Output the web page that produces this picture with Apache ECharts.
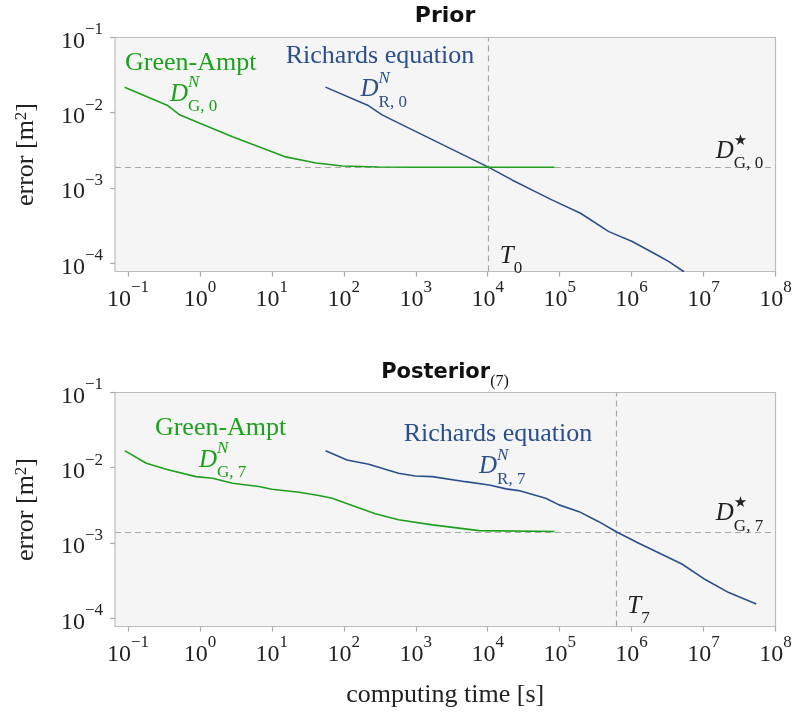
<!DOCTYPE html>
<html>
<head>
<meta charset="utf-8">
<script src="https://cdn.jsdelivr.net/npm/echarts@6/dist/echarts.min.js"></script>
<style>
  html, body { margin: 0; padding: 0; background: #fff; }
  #main { width: 797px; height: 718px; }
</style>
</head>
<body>
<div id="main"></div>
<script>
const chart = echarts.init(document.getElementById("main"));

// ********
// * Data *
// ********

// Axis ranges and ticks (log scale)
const xMin = Math.pow(10, -1.18);
const xMax = 1e8;
const yMin = Math.pow(10, -4.11);
const yMax = 1e-1;
const xTicks = [1e-1, 1e0, 1e1, 1e2, 1e3, 1e4, 1e5, 1e6, 1e7, 1e8];
const yTicks = [1e-4, 1e-3, 1e-2, 1e-1];

// Prior: Green-Ampt
const priorGreenTime = [0.09, 0.35, 0.53, 1.0, 2.84, 6.6, 15.6, 41, 96, 300, 1000, 1e4, 8.5e4];
const priorGreenError = [0.0218, 0.0126, 0.0093, 0.00723, 0.00479, 0.00352, 0.00259, 0.00215, 0.00196, 0.00190, 0.00189, 0.00189, 0.00189];

// Prior: Richards equation
const priorRichardsTime = [55.6, 222, 340, 580, 1.035e4, 2.18e4, 4.37e4, 7.8e4, 1.95e5, 4.83e5, 1.02e6, 2.4e6, 3.3e6, 5.35e6];
const priorRichardsError = [0.0219, 0.01236, 0.00937, 0.00728, 0.00188, 0.00128, 0.000915, 0.000695, 0.000462, 0.000263, 0.000194, 0.000125, 0.000105, 0.000077];

// Posterior(7): Green-Ampt
const postGreenTime = [0.09, 0.18, 0.35, 0.88, 1.5, 2.84, 6.6, 10, 24, 45, 69, 105, 274, 575, 1700, 7600, 8.5e4];
const postGreenError = [0.01686, 0.01148, 0.0095, 0.00762, 0.00724, 0.00622, 0.00562, 0.00518, 0.00473, 0.00427, 0.00394, 0.00339, 0.00245, 0.00204, 0.00174, 0.00146, 0.00142];

// Posterior(7): Richards equation
const postRichardsTime = [55.7, 111, 222, 575, 980, 1700, 4900, 1.05e4, 1.8e4, 2.7e4, 6.4e4, 9.8e4, 1.86e5, 3.5e5, 6.2e5, 1.26e6, 5e6, 1.07e7, 2.24e7, 5.4e7];
const postRichardsError = [0.01686, 0.0127, 0.01114, 0.00845, 0.00778, 0.00762, 0.00653, 0.00591, 0.00524, 0.00497, 0.00394, 0.00321, 0.00261, 0.00192, 0.0014, 0.00099, 0.000525, 0.000324, 0.000219, 0.000155];

// Reference levels: best Green-Ampt error and break-even time
const priorDStar = 0.00189;
const priorT = 1.02e4;
const postDStar = 0.0014;
const postT = 6.2e5;

// **********
// * Styles *
// **********

const green = "#1ea01e";
const blue = "#2b4f8c";
const serif = "Liberation Serif";

const tickRich = {
  b: { fontFamily: serif, fontSize: 24, color: "#222", lineHeight: 32, verticalAlign: "bottom" },
  s: { fontFamily: serif, fontSize: 17, color: "#222", lineHeight: 17, verticalAlign: "top" },
};

function powLabel(value) {
  const e = Math.round(Math.log10(value));
  return "{b|10}{s|" + (e < 0 ? "\u2212" + (-e) : e) + "}";
}

function annoRich(color) {
  return {
    t: { fontFamily: serif, fontSize: 26, color: color },
    d: { fontFamily: serif, fontSize: 25, fontStyle: "italic", color: color, lineHeight: 42 },
    dh: { fontFamily: serif, fontSize: 25, fontStyle: "italic", color: "rgba(0,0,0,0)", lineHeight: 40 },
    sub: { fontFamily: serif, fontSize: 17, color: color, lineHeight: 17, verticalAlign: "bottom" },
    sup: { fontFamily: serif, fontSize: 17, fontStyle: "italic", color: color, lineHeight: 17, verticalAlign: "top" },
    star: { fontFamily: "DejaVu Sans", fontSize: 15, color: color, lineHeight: 15, verticalAlign: "top", padding: [2, 0, 0, 0] },
  };
}

// Text item anchored (left, middle) at a data point
function textItem(coord, text, color) {
  return {
    coord: coord,
    label: {
      show: true, position: "right", distance: 0, offset: [0, 3],
      formatter: text, rich: annoRich(color),
    },
  };
}

// D^{sup}_{sub} as two overlaid labels at the same anchor
function symbolItems(coord, sup, sub, color, star) {
  return [
    textItem(coord, "{d|D}{sub|" + sub + "}", color),
    textItem(coord, "{dh|D}{" + (star ? "star" : "sup") + "|" + sup + "}", color),
  ];
}

function buildGrid(top) {
  return {
    left: 115, top: top, width: 660.5, height: 234,
    show: true, backgroundColor: "#f5f5f5", borderColor: "#bdbdbd", borderWidth: 1.2,
  };
}

function buildXAxis(gridIndex, withName) {
  return {
    type: "log", logBase: 10, gridIndex: gridIndex,
    min: xMin, max: xMax,
    axisLine: { show: false },
    splitLine: { show: false },
    minorTick: { show: false },
    axisTick: { show: true, length: 5, lineStyle: { color: "#aaa", width: 1.2 }, customValues: xTicks },
    axisLabel: { margin: 8, formatter: powLabel, rich: tickRich, customValues: xTicks },
    name: withName ? "computing time [s]" : "",
    nameLocation: "middle", nameGap: 56,
    nameTextStyle: { fontFamily: serif, fontSize: 26, color: "#222" },
  };
}

function buildYAxis(gridIndex) {
  return {
    type: "log", logBase: 10, gridIndex: gridIndex,
    min: yMin, max: yMax,
    axisLine: { show: false },
    splitLine: { show: false },
    minorTick: { show: false },
    axisTick: { show: true, length: 5, lineStyle: { color: "#aaa", width: 1.2 }, customValues: yTicks },
    axisLabel: { margin: 12, formatter: powLabel, rich: tickRich, customValues: yTicks },
    name: "error [m{s|2}]",
    nameLocation: "middle", nameRotate: 90, nameGap: 76,
    nameTextStyle: {
      fontFamily: serif, fontSize: 26, color: "#222",
      rich: { s: { fontFamily: serif, fontSize: 17, color: "#222", lineHeight: 17, verticalAlign: "top" } },
    },
  };
}

function zipPairs(xs, ys) {
  return xs.map((x, i) => [x, ys[i]]);
}

function lineSeries(name, idx, xs, ys, color, extra) {
  return Object.assign({
    name: name, type: "line",
    xAxisIndex: idx, yAxisIndex: idx,
    data: zipPairs(xs, ys),
    showSymbol: false, symbol: "none",
    lineStyle: { color: color, width: 1.6 },
    clip: true, animation: false, z: 3,
  }, extra || {});
}

// Dashed guides: horizontal at D*, vertical at T
function refLines(dStar, tStar) {
  return {
    silent: true, symbol: "none",
    label: { show: false },
    lineStyle: { color: "#a8a8a8", type: [6, 4], width: 1.2 },
    data: [
      [{ coord: [xMin, dStar] }, { coord: [xMax, dStar] }],
      [{ coord: [tStar, yMin] }, { coord: [tStar, yMax] }],
    ],
    animation: false, z: 1,
  };
}

function marks(items) {
  return { symbol: "circle", symbolSize: 0, silent: true, animation: false, data: items };
}

// **********
// * Option *
// **********

const option = {
  animation: false,
  title: [
    {
      text: "Prior", left: 445, top: 5, textAlign: "center", padding: 0,
      textStyle: { fontFamily: "DejaVu Sans", fontWeight: "bold", fontSize: 22, color: "#111" },
    },
    {
      text: "{b|Posterior}{s|(7)}", left: 445, top: 356, textAlign: "center", padding: 0,
      textStyle: {
        rich: {
          b: { fontFamily: "DejaVu Sans", fontWeight: "bold", fontSize: 21, color: "#111", lineHeight: 34 },
          s: { fontFamily: serif, fontWeight: "normal", fontSize: 16, color: "#111", lineHeight: 16, verticalAlign: "bottom" },
        },
      },
    },
  ],
  grid: [buildGrid(37.5), buildGrid(392.5)],
  xAxis: [buildXAxis(0, false), buildXAxis(1, true)],
  yAxis: [buildYAxis(0), buildYAxis(1)],
  series: [
    lineSeries("Prior Richards", 0, priorRichardsTime, priorRichardsError, blue, {
      markLine: refLines(priorDStar, priorT),
      markPoint: marks([
        textItem([15.6, 0.0625], "{t|Richards equation}", blue),
        ...symbolItems([171, 0.0222], "N", "R, 0", blue),
        ...symbolItems([1.48e7, 0.00338], "\u2605", "G, 0", "#222", true),
        textItem([1.47e4, 0.000136], "{d|T}{sub|0}", "#222"),
      ]),
    }),
    lineSeries("Prior Green-Ampt", 0, priorGreenTime, priorGreenError, green, {
      markPoint: marks([
        textItem([0.091, 0.0504], "{t|Green-Ampt}", green),
        ...symbolItems([0.383, 0.0192], "N", "G, 0", green),
      ]),
    }),
    lineSeries("Posterior Richards", 1, postRichardsTime, postRichardsError, blue, {
      markLine: refLines(postDStar, postT),
      markPoint: marks([
        textItem([681, 0.0302], "{t|Richards equation}", blue),
        ...symbolItems([7570, 0.0113], "N", "R, 7", blue),
        ...symbolItems([1.48e7, 0.00267], "\u2605", "G, 7", "#222", true),
        textItem([8.7e5, 0.000157], "{d|T}{sub|7}", "#222"),
      ]),
    }),
    lineSeries("Posterior Green-Ampt", 1, postGreenTime, postGreenError, green, {
      markPoint: marks([
        textItem([0.237, 0.037], "{t|Green-Ampt}", green),
        ...symbolItems([0.968, 0.0139], "N", "G, 7", green),
      ]),
    }),
  ],
};

chart.setOption(option);

addEventListener("resize", () => {
  chart.resize();
});
</script>
</body>
</html>
